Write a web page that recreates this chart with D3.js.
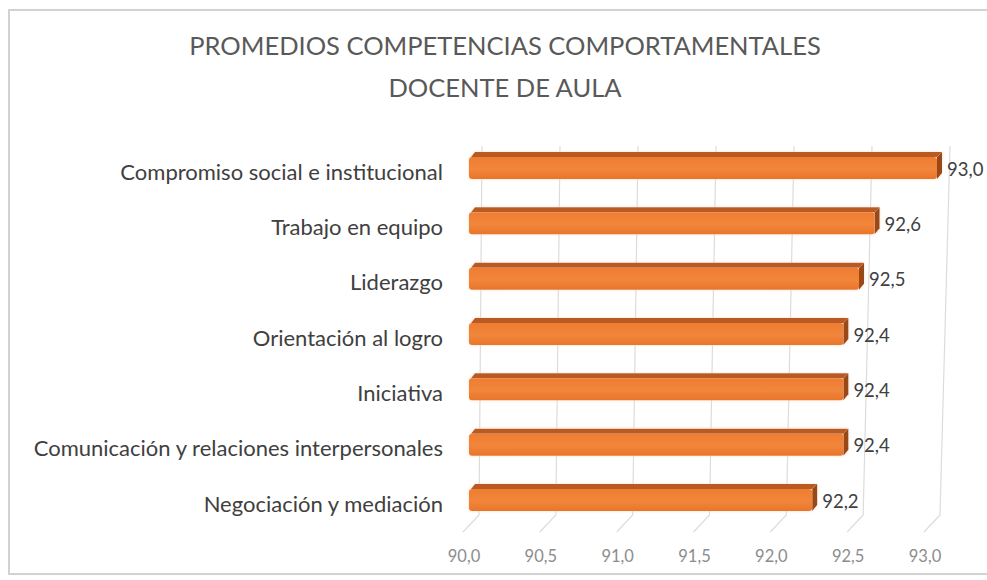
<!DOCTYPE html>
<html>
<head>
<meta charset="utf-8">
<script src="https://cdn.jsdelivr.net/npm/d3@7"></script>
<style>
  html, body { margin: 0; padding: 0; background: #fff; }
  svg { display: block; font-family: Lato, "Open Sans", sans-serif; }
</style>
</head>
<body>
<svg id="chart" width="987" height="580"></svg>
<script>
// Chart content
const titleLines = ["PROMEDIOS COMPETENCIAS COMPORTAMENTALES", "DOCENTE DE AULA"];
const categories = [
  "Compromiso social e institucional",
  "Trabajo en equipo",
  "Liderazgo",
  "Orientación al logro",
  "Iniciativa",
  "Comunicación y relaciones interpersonales",
  "Negociación y mediación"
];
const values = [93.0, 92.6, 92.5, 92.4, 92.4, 92.4, 92.2];
const tickValues = [90.0, 90.5, 91.0, 91.5, 92.0, 92.5, 93.0];
const domainX = [90, 93];

// Spanish number format: decimal comma
const locale = d3.formatLocale({ decimal: ",", thousands: ".", grouping: [3], currency: ["", " €"] });
const fmt = locale.format(".1f");

const svg = d3.select("#chart");

// Outer frame
svg.append("rect")
  .attr("x", 9).attr("y", 10)
  .attr("width", 990).attr("height", 564)
  .attr("fill", "#fff")
  .attr("stroke", "#d2d2d2")
  .attr("stroke-width", 2);

// Title
svg.append("g").selectAll("text")
  .data(titleLines)
  .join("text")
  .attr("x", 505)
  .attr("y", (d, i) => 55 + i * 42)
  .attr("text-anchor", "middle")
  .attr("font-size", 25.5)
  .attr("fill", "#595959")
  .text(d => d);

// Scales: back wall (top and bottom edge, slight perspective), bar fronts, rows
const xWallTop = d3.scaleLinear().domain(domainX).range([482, 950]);
const xWallBot = d3.scaleLinear().domain(domainX).range([479, 940]);
const xBar = d3.scaleLinear().domain(domainX).range([469, 937]);
const yRow = d3.scalePoint().domain(categories).range([166, 498]);

const wallTopY = 146, wallBotY = 515, floorY = 532, floorShift = -16;

// Gridlines on the back wall and across the floor
const grid = svg.append("g")
  .attr("fill", "none")
  .attr("stroke", "#dcdcdc")
  .attr("stroke-width", 1.2);

grid.selectAll("path")
  .data(tickValues)
  .join("path")
  .attr("d", v => {
    const xt = xWallTop(v), xb = xWallBot(v);
    return `M${xt},${wallTopY}L${xb},${wallBotY}L${xb + floorShift},${floorY}`;
  });

// Tick labels
svg.append("g").selectAll("text")
  .data(tickValues)
  .join("text")
  .attr("x", v => xWallBot(v) + floorShift + 1)
  .attr("y", 558)
  .attr("text-anchor", "middle")
  .attr("dominant-baseline", "middle")
  .attr("font-size", 16.5)
  .attr("fill", "#8c8c8c")
  .text(v => fmt(v));

// Category labels
svg.append("g").selectAll("text")
  .data(categories)
  .join("text")
  .attr("x", 443)
  .attr("y", d => yRow(d) + 8)
  .attr("text-anchor", "end")
  .attr("dominant-baseline", "middle")
  .attr("font-size", 22)
  .attr("fill", "#404040")
  .text(d => d);

// Bar shading
const defs = svg.append("defs");
const grad = defs.append("linearGradient")
  .attr("id", "front").attr("x1", 0).attr("y1", 0).attr("x2", 0).attr("y2", 1);
grad.append("stop").attr("offset", "0%").attr("stop-color", "#ee7d31");
grad.append("stop").attr("offset", "55%").attr("stop-color", "#f1863b");
grad.append("stop").attr("offset", "100%").attr("stop-color", "#e8752a");

const glow = defs.append("filter").attr("id", "glow")
  .attr("x", "-5%").attr("y", "-40%").attr("width", "110%").attr("height", "180%");
glow.append("feGaussianBlur").attr("in", "SourceAlpha").attr("stdDeviation", 1.6).attr("result", "b");
glow.append("feFlood").attr("flood-color", "#fbd9b8").attr("flood-opacity", 0.9);
glow.append("feComposite").attr("in2", "b").attr("operator", "in").attr("result", "g");
const merge = glow.append("feMerge");
merge.append("feMergeNode").attr("in", "g");
merge.append("feMergeNode").attr("in", "SourceGraphic");

// 3D bars: front face, top face, right side face
const depthX = 5, depthY = 5, frontUp = 9, frontDown = 13;
const rows = categories.map((c, i) => ({ cat: c, value: values[i] }));

const bars = svg.append("g").selectAll("g")
  .data(rows)
  .join("g")
  .attr("filter", "url(#glow)");

bars.append("path")
  .attr("fill", "#b95a20")
  .attr("d", d => {
    const x0 = xBar(domainX[0]), x1 = xBar(d.value), yf = yRow(d.cat) - frontUp;
    return `M${x0 + 2},${yf}L${x0 + depthX + 1},${yf - depthY}L${x1 + depthX},${yf - depthY}L${x1},${yf}Z`;
  });

bars.append("path")
  .attr("fill", "#9a4916")
  .attr("d", d => {
    const x1 = xBar(d.value), yf = yRow(d.cat) - frontUp, yb = yRow(d.cat) + frontDown;
    return `M${x1},${yf}L${x1 + depthX},${yf - depthY}L${x1 + depthX},${yb - depthY - 1}L${x1},${yb}Z`;
  });

bars.append("rect")
  .attr("x", xBar(domainX[0]))
  .attr("y", d => yRow(d.cat) - frontUp)
  .attr("width", d => xBar(d.value) - xBar(domainX[0]))
  .attr("height", frontUp + frontDown)
  .attr("rx", 3)
  .attr("fill", "url(#front)");

// Value labels
svg.append("g").selectAll("text")
  .data(rows)
  .join("text")
  .attr("x", d => xBar(d.value) + depthX + 5)
  .attr("y", d => yRow(d.cat) + 5)
  .attr("dominant-baseline", "middle")
  .attr("font-size", 18.5)
  .attr("fill", "#404040")
  .text(d => fmt(d.value));
</script>
</body>
</html>
